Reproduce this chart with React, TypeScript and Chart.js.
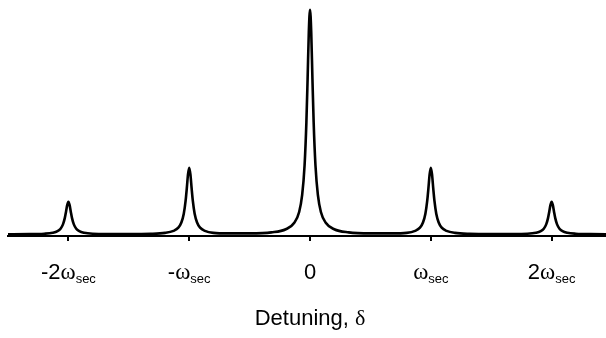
import { useEffect, useRef } from "react";
import { Chart, registerables } from "chart.js";

Chart.register(...registerables);

// Detuning in units of the secular frequency, sampled densely around each sideband.
const detuning = [
  -2.5, -2.32, -2.2, -2.13, -2.09, -2.065, -2.045, -2.03, -2.02, -2.01, -2.0,
  -1.99, -1.98, -1.97, -1.955, -1.935, -1.91, -1.87, -1.8, -1.68, -1.5,
  -1.32, -1.2, -1.13, -1.09, -1.065, -1.045, -1.03, -1.02, -1.01, -1.0,
  -0.99, -0.98, -0.97, -0.955, -0.935, -0.91, -0.87, -0.8, -0.68, -0.5,
  -0.32, -0.2, -0.13, -0.09, -0.065, -0.045, -0.03, -0.02, -0.01, 0.0,
  0.01, 0.02, 0.03, 0.045, 0.065, 0.09, 0.13, 0.2, 0.32, 0.5,
  0.68, 0.8, 0.87, 0.91, 0.935, 0.955, 0.97, 0.98, 0.99, 1.0,
  1.01, 1.02, 1.03, 1.045, 1.065, 1.09, 1.13, 1.2, 1.32, 1.5,
  1.68, 1.8, 1.87, 1.91, 1.935, 1.955, 1.97, 1.98, 1.99, 2.0,
  2.01, 2.02, 2.03, 2.045, 2.065, 2.09, 2.13, 2.2, 2.32, 2.5,
];

// Relative signal (carrier peak = 1).
const intensity = [
  0.001, 0.0013, 0.0032, 0.0074, 0.0145, 0.0255, 0.0447, 0.0725, 0.1003, 0.1305, 0.145,
  0.1305, 0.1003, 0.0725, 0.0447, 0.0255, 0.0145, 0.0074, 0.0032, 0.002, 0.002,
  0.003, 0.007, 0.016, 0.03, 0.053, 0.092, 0.149, 0.205, 0.267, 0.297,
  0.267, 0.205, 0.149, 0.092, 0.053, 0.03, 0.016, 0.007, 0.0045, 0.0047,
  0.0093, 0.023, 0.052, 0.1, 0.176, 0.308, 0.5, 0.692, 0.9, 1.0,
  0.9, 0.692, 0.5, 0.308, 0.176, 0.1, 0.052, 0.023, 0.0093, 0.0047,
  0.0045, 0.007, 0.016, 0.03, 0.053, 0.092, 0.149, 0.205, 0.267, 0.297,
  0.267, 0.205, 0.149, 0.092, 0.053, 0.03, 0.016, 0.007, 0.003, 0.002,
  0.002, 0.0032, 0.0074, 0.0145, 0.0255, 0.0447, 0.0725, 0.1003, 0.1305, 0.145,
  0.1305, 0.1003, 0.0725, 0.0447, 0.0255, 0.0145, 0.0074, 0.0032, 0.0013, 0.001,
];

// Tick labels: coefficient, frequency symbol and its subscript.
const tickValues = [-2, -1, 0, 1, 2];
const tickCoefficients = ["-2", "-", "0", "", "2"];
const tickSymbols = ["ω", "ω", "", "ω", "ω"];
const tickSubscripts = ["sec", "sec", "", "sec", "sec"];

const axisTitleText = "Detuning, ";
const axisTitleSymbol = "δ";

const SANS = "'Liberation Sans', Arial, sans-serif";
const SERIF = "'Liberation Serif', 'Times New Roman', serif";

type Part = { text: string; font: string; dy: number };

function drawParts(ctx: CanvasRenderingContext2D, cx: number, y: number, parts: Part[]) {
  const widths = parts.map((p) => {
    ctx.font = p.font;
    return ctx.measureText(p.text).width;
  });
  const total = widths.reduce((a, b) => a + b, 0);
  let x = cx - total / 2;
  parts.forEach((p, i) => {
    ctx.font = p.font;
    ctx.fillText(p.text, x, y + p.dy);
    x += widths[i];
  });
}

const labelPlugin = {
  id: "detuningLabels",
  afterDraw(chart: any) {
    const ctx: CanvasRenderingContext2D = chart.ctx;
    const xs = chart.scales.x;
    const bottom = chart.chartArea.bottom;
    ctx.save();
    ctx.fillStyle = "#000";
    ctx.textBaseline = "alphabetic";
    ctx.textAlign = "left";
    tickValues.forEach((v, i) => {
      const px = xs.getPixelForValue(v);
      const parts: Part[] = [];
      if (tickCoefficients[i]) parts.push({ text: tickCoefficients[i], font: `22px ${SANS}`, dy: 0 });
      if (tickSymbols[i]) parts.push({ text: tickSymbols[i], font: `23px ${SERIF}`, dy: 0 });
      if (tickSubscripts[i]) parts.push({ text: tickSubscripts[i], font: `13px ${SANS}`, dy: 4 });
      drawParts(ctx, px, bottom + 43, parts);
    });
    drawParts(ctx, xs.getPixelForValue(0), bottom + 89, [
      { text: axisTitleText, font: `22px ${SANS}`, dy: 0 },
      { text: axisTitleSymbol, font: `22px ${SERIF}`, dy: 0 },
    ]);
    ctx.restore();
  },
};

export default function App() {
  const canvasRef = useRef<HTMLCanvasElement | null>(null);

  useEffect(() => {
    const canvas = canvasRef.current;
    if (!canvas) return;
    const points = detuning.map((x, i) => ({ x, y: intensity[i] }));
    const chart = new Chart(canvas, {
      type: "line",
      data: {
        datasets: [
          {
            data: points,
            borderColor: "#000",
            borderWidth: 2.6,
            pointRadius: 0,
            fill: false,
            cubicInterpolationMode: "monotone",
          },
        ],
      },
      options: {
        animation: false,
        responsive: false,
        devicePixelRatio: 1,
        layout: { padding: { left: 8, right: 0, top: 3, bottom: 97 } },
        plugins: { legend: { display: false }, tooltip: { enabled: false } },
        scales: {
          x: {
            type: "linear",
            min: -2.5,
            max: 2.45,
            afterBuildTicks: (scale: any) => {
              scale.ticks = tickValues.map((value) => ({ value }));
            },
            grid: {
              display: true,
              drawOnChartArea: false,
              drawTicks: true,
              tickLength: 5,
              color: "#000",
              lineWidth: 2,
            },
            border: { display: true, color: "#000", width: 2 },
            ticks: { display: false },
          },
          y: {
            display: false,
            min: -0.007,
            max: 1.03,
          },
        },
      },
      plugins: [labelPlugin],
    } as any);
    return () => chart.destroy();
  }, []);

  return (
    <div style={{ position: "fixed", left: 0, top: 0, width: 606, height: 338, background: "#fff" }}>
      <canvas ref={canvasRef} width={606} height={338} style={{ display: "block" }} />
    </div>
  );
}
